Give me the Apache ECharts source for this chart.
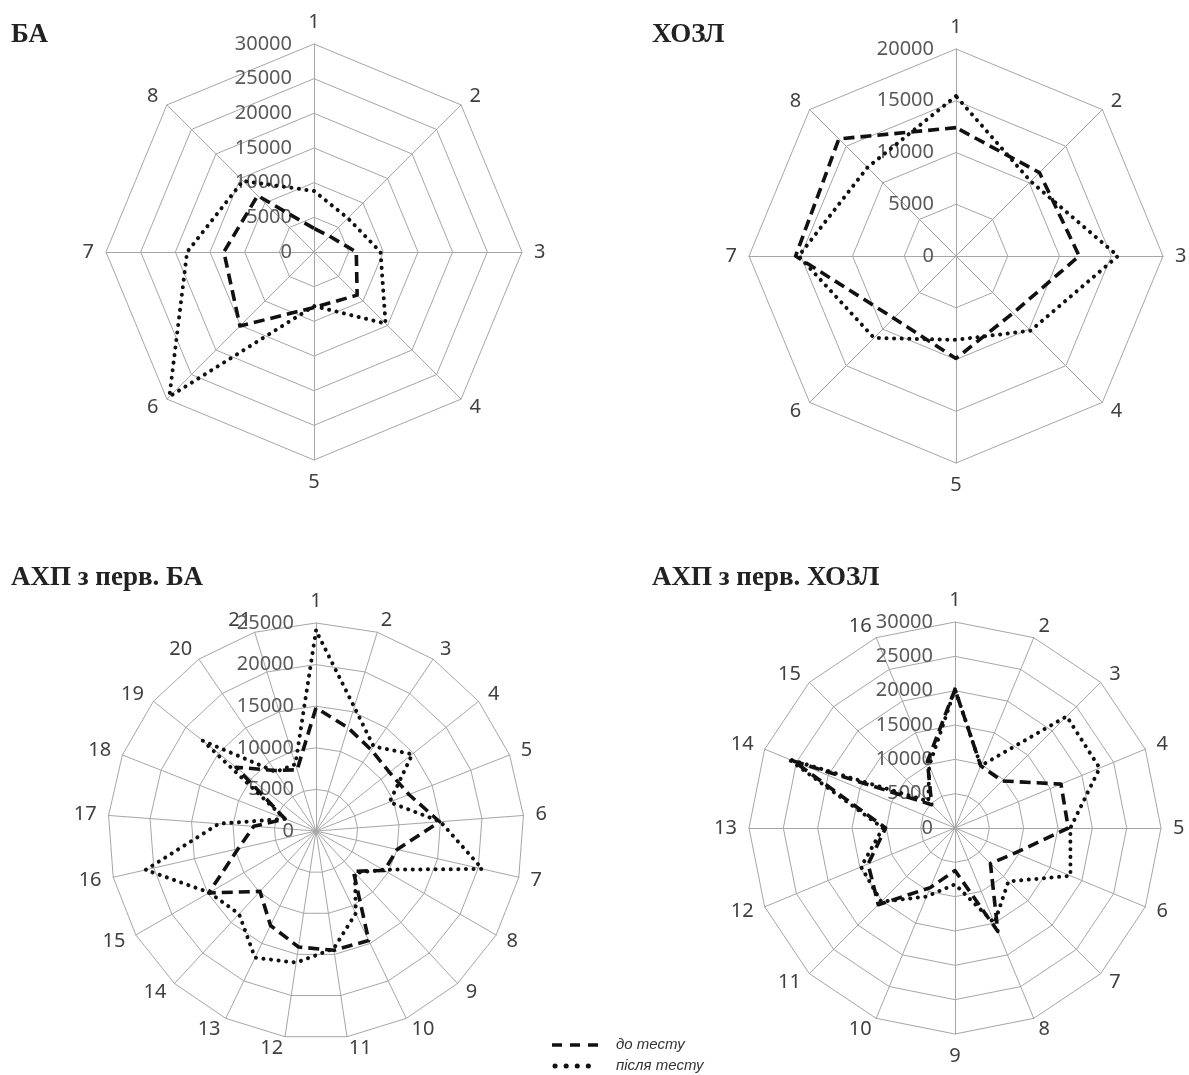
<!DOCTYPE html>
<html lang="uk">
<head>
<meta charset="UTF-8">
<title>Radar</title>
<style>
    html, body { margin: 0; padding: 0; background: #fff; }
    #main { width: 1189px; height: 1075px; }
</style>
</head>
<body>
<div id="main"></div>
<script src="https://cdn.jsdelivr.net/npm/echarts@6/dist/echarts.min.js"></script>
<script>
    // назви серій
    var seriesNames = ['до тесту', 'після тесту'];

    // БА
    var baAxes = ['1', '2', '3', '4', '5', '6', '7', '8'];
    var baBefore = [3400, 3200, 6100, 8800, 8000, 15100, 13000, 11500];
    var baAfter = [8800, 6900, 9600, 14600, 7800, 29500, 18300, 14500];

    // ХОЗЛ
    var copdAxes = ['1', '2', '3', '4', '5', '6', '7', '8'];
    var copdBefore = [12400, 11400, 11900, 7800, 9900, 8500, 15500, 16000];
    var copdAfter = [15450, 10200, 15650, 10200, 8100, 11200, 15200, 12100];

    // АХП з перв. БА
    var ahpBaAxes = ['1', '2', '3', '4', '5', '6', '7', '8', '9', '10', '11',
        '12', '13', '14', '15', '16', '17', '18', '19', '20', '21'];
    var ahpBaBefore = [14800, 13000, 11800, 11300, 12000, 14900, 10000, 9500, 6600, 14600, 14500,
        14100, 12600, 9900, 14900, 9600, 7500, 4000, 12300, 8800, 7700];
    var ahpBaAfter = [24100, 15600, 12300, 14800, 9500, 15000, 20500, 9300, 6900, 11000, 14300,
        16000, 16900, 13600, 14800, 21000, 11700, 4000, 17400, 8600, 8400];

    // АХП з перв. ХОЗЛ
    var ahpCopdAxes = ['1', '2', '3', '4', '5', '6', '7', '8', '9', '10', '11',
        '12', '13', '14', '15', '16'];
    var ahpCopdBefore = [20200, 9800, 9700, 16700, 16500, 9500, 7300, 16300,
        6200, 9400, 15800, 13700, 10100, 25500, 4800, 10500];
    var ahpCopdAfter = [20200, 9800, 23000, 22800, 16800, 18200, 11000, 15000,
        8200, 10800, 15200, 14800, 10500, 26300, 5500, 9800];

    var gridColor = '#a6a6a6';
    var numFont = 'Noto Sans';

    // echarts кладе осі проти годинникової стрілки, а тут за годинниковою
    function cw(arr) {
        return [arr[0]].concat(arr.slice(1).reverse());
    }

    function makeRadar(axes, max, split, center, radius) {
        var ind = cw(axes).map(function (n, i) {
            var o = {name: n, max: max, min: 0};
            if (i === 0) o.axisLabel = {show: true};
            return o;
        });
        return {
            indicator: ind,
            center: center,
            radius: radius,
            startAngle: 90,
            shape: 'polygon',
            splitNumber: split,
            nameGap: 12,
            axisName: {color: '#404040', fontSize: 20, fontFamily: numFont},
            axisLine: {lineStyle: {color: gridColor, width: 1}},
            axisTick: {show: false},
            axisLabel: {
                show: false, color: '#595959', fontSize: 20, fontFamily: numFont, margin: 22,
                formatter: function (v) { return String(v); }
            },
            splitLine: {lineStyle: {color: gridColor, width: 1}},
            splitArea: {show: false}
        };
    }

    var dashStyle = {color: '#111', width: 3.6, type: [11, 6]};
    var dotStyle = {color: '#111', width: 4, type: [0.1, 7.5], cap: 'round'};

    function makeSeries(idx, before, after) {
        return {
            type: 'radar',
            radarIndex: idx,
            symbol: 'none',
            silent: true,
            data: [
                {name: seriesNames[0], value: cw(before), lineStyle: dashStyle},
                {name: seriesNames[1], value: cw(after), lineStyle: dotStyle}
            ]
        };
    }

    var titleText = {fontFamily: 'Liberation Serif', fontWeight: 'bold', fontSize: 27, color: '#222'};

    var myChart = echarts.init(document.getElementById('main'));

    var option = {
        backgroundColor: '#fff',
        animation: false,
        title: [
            {text: 'БА', left: 6, top: 17, textStyle: titleText},
            {text: 'ХОЗЛ', left: 647, top: 17, textStyle: titleText},
            {text: 'АХП з перв. БА', left: 6, top: 560, textStyle: titleText},
            {text: 'АХП з перв. ХОЗЛ', left: 647, top: 560, textStyle: titleText}
        ],
        radar: [
            makeRadar(baAxes, 30000, 6, [314, 252], 208),
            makeRadar(copdAxes, 20000, 4, [956, 256], 207),
            makeRadar(ahpBaAxes, 25000, 5, [316, 831], 208),
            makeRadar(ahpCopdAxes, 30000, 6, [955, 828], 206)
        ],
        series: [
            makeSeries(0, baBefore, baAfter),
            makeSeries(1, copdBefore, copdAfter),
            makeSeries(2, ahpBaBefore, ahpBaAfter),
            makeSeries(3, ahpCopdBefore, ahpCopdAfter)
        ],
        graphic: [
            {type: 'line', shape: {x1: 552, y1: 1045, x2: 600, y2: 1045},
                style: {stroke: '#111', lineWidth: 3.5, lineDash: [10, 8]}},
            {type: 'text', x: 616, y: 1045,
                style: {text: seriesNames[0], font: 'italic 15px "Liberation Sans"', fill: '#333', verticalAlign: 'middle'}},
            {type: 'line', shape: {x1: 555, y1: 1066, x2: 599, y2: 1066},
                style: {stroke: '#111', lineWidth: 5, lineDash: [0.1, 11], lineCap: 'round'}},
            {type: 'text', x: 616, y: 1066,
                style: {text: seriesNames[1], font: 'italic 15px "Liberation Sans"', fill: '#333', verticalAlign: 'middle'}}
        ]
    };

    myChart.setOption(option);
</script>
</body>
</html>
